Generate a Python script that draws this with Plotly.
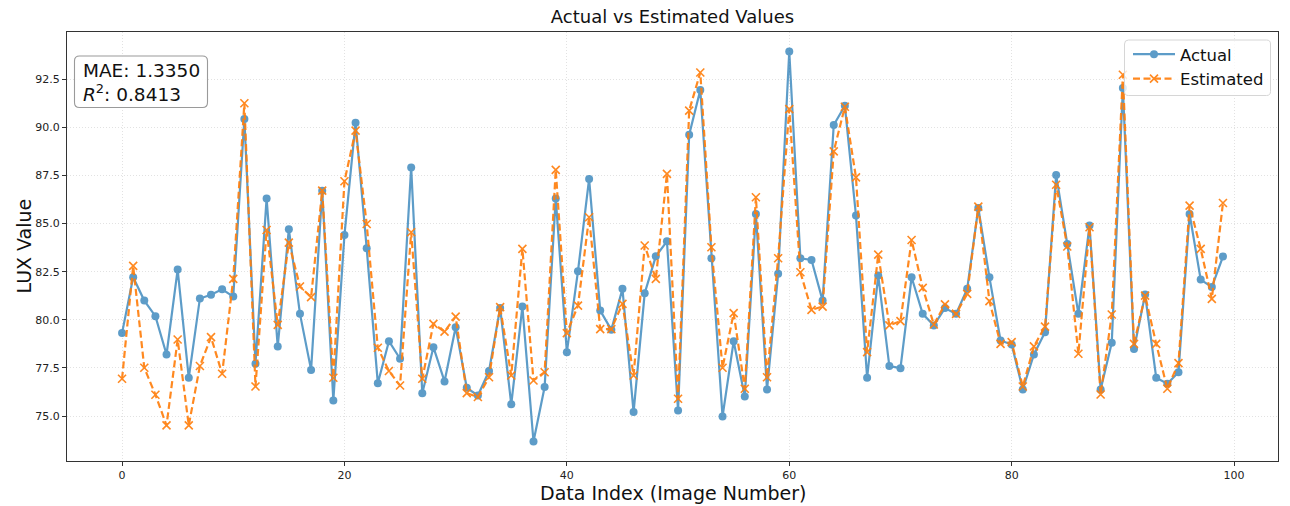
import plotly.graph_objects as go

# Per-image LUX values: measured vs model estimate
image_index = list(range(100))

actual_lux = [
    79.31, 82.21, 81.00, 80.19, 78.20, 82.61, 76.99, 81.11, 81.30, 81.59,
    81.21, 90.43, 77.72, 86.31, 78.62, 84.71, 80.31, 77.40, 86.71, 75.81,
    84.41, 90.24, 83.72, 76.71, 78.89, 77.98, 87.92, 76.19, 78.58, 76.80,
    79.62, 76.47, 76.07, 77.34, 80.62, 75.61, 80.69, 73.68, 76.51, 86.31,
    78.32, 82.53, 87.32, 80.48, 79.48, 81.61, 75.21, 81.38, 83.30, 84.08,
    75.29, 89.62, 91.94, 83.20, 74.98, 78.89, 76.02, 85.50, 76.38, 82.39,
    93.94, 83.20, 83.11, 81.00, 90.12, 91.12, 85.42, 76.99, 82.30, 77.60,
    77.49, 82.21, 80.31, 79.71, 80.61, 80.31, 81.61, 85.81, 82.21, 78.93,
    78.72, 76.38, 78.20, 79.36, 87.53, 83.94, 80.31, 84.90, 76.38, 78.81,
    92.04, 78.49, 81.31, 76.99, 76.68, 77.28, 85.50, 82.09, 81.70, 83.29,
]

estimated_lux = [
    76.94, 82.80, 77.51, 76.11, 74.52, 78.98, 74.52, 77.60, 79.10, 77.20,
    82.13, 91.25, 76.54, 84.67, 79.74, 84.01, 81.73, 81.18, 86.71, 76.99,
    87.20, 89.83, 84.98, 78.55, 77.34, 76.59, 84.55, 76.94, 79.79, 79.39,
    80.17, 76.19, 75.99, 77.02, 80.66, 77.11, 83.69, 76.85, 77.28, 87.79,
    79.31, 80.74, 85.33, 79.52, 79.52, 80.83, 77.11, 83.86, 82.13, 87.58,
    75.90, 90.87, 92.85, 83.77, 77.51, 80.35, 76.42, 86.37, 77.02, 83.20,
    90.95, 82.47, 80.52, 80.69, 88.75, 91.07, 87.40, 78.32, 83.39, 79.71,
    79.93, 84.15, 81.66, 79.76, 80.80, 80.31, 81.35, 85.88, 80.97, 78.75,
    78.84, 76.54, 78.62, 79.65, 87.02, 83.81, 78.24, 84.81, 76.12, 80.28,
    92.73, 78.75, 81.26, 78.75, 76.42, 77.75, 85.93, 83.69, 81.09, 86.07,
]

mae_value = 1.3350
r2_value = 0.8413

x_tick_values = [0, 20, 40, 60, 80, 100]
y_tick_values = [75.0, 77.5, 80.0, 82.5, 85.0, 87.5, 90.0, 92.5]

# ---- figure geometry (pixels) ----
W, H = 1290, 506
ML, MR, MT, MB = 67, 12, 32, 45
PW, PH = W - ML - MR, H - MT - MB

FONT = "DejaVu Sans"
BLUE = "#1f77b4"
ORANGE = "#ff7f0e"
TEXT = "#111111"


def px_to_paper(px, py):
    return (px - ML) / PW, (H - MB - py) / PH


def rounded_box(x0, y0, x1, y1, r):
    """Rounded rectangle given in pixel coordinates, returned as a paper-space SVG path."""

    def P(x, y):
        u, v = px_to_paper(x, y)
        return f"{u:.5f},{v:.5f}"

    return (
        f"M {P(x0 + r, y0)} L {P(x1 - r, y0)} Q {P(x1, y0)} {P(x1, y0 + r)} "
        f"L {P(x1, y1 - r)} Q {P(x1, y1)} {P(x1 - r, y1)} "
        f"L {P(x0 + r, y1)} Q {P(x0, y1)} {P(x0, y1 - r)} "
        f"L {P(x0, y0 + r)} Q {P(x0, y0)} {P(x0 + r, y0)} Z"
    )


# data range with 5% padding on each side
x_lo, x_hi = min(image_index), max(image_index)
x_pad = 0.05 * (x_hi - x_lo)
all_vals = actual_lux + estimated_lux
y_lo, y_hi = min(all_vals), max(all_vals)
y_pad = 0.05 * (y_hi - y_lo)

fig = go.Figure()

fig.add_trace(go.Scatter(
    x=image_index, y=actual_lux, name="Actual",
    mode="lines+markers",
    line=dict(color=BLUE, width=2.2),
    marker=dict(symbol="circle", size=8, color=BLUE),
    opacity=0.72,
))

fig.add_trace(go.Scatter(
    x=image_index, y=estimated_lux, name="Estimated",
    mode="lines+markers",
    line=dict(color=ORANGE, width=2.2, dash="7px,3.5px"),
    marker=dict(symbol="x-thin", size=8, color=ORANGE,
                line=dict(color=ORANGE, width=1.6)),
    opacity=0.92,
))

# metrics box (top-left) and legend frame (top-right)
fig.add_shape(type="path", xref="paper", yref="paper",
              path=rounded_box(74.5, 56, 207.5, 107.5, 5),
              line=dict(color="#9a9a9a", width=1.1), fillcolor="rgba(255,255,255,0.85)",
              layer="above")
fig.add_shape(type="path", xref="paper", yref="paper",
              path=rounded_box(1124.5, 40, 1270.5, 95.5, 4),
              line=dict(color="#d6d6d6", width=1), fillcolor="rgba(255,255,255,0.8)",
              layer="above")

mx, my = px_to_paper(81, 82)
fig.add_annotation(
    xref="paper", yref="paper", x=mx, y=my, xanchor="left", yanchor="middle",
    align="left", showarrow=False,
    text=f"MAE: {mae_value:.4f}<br><i>R</i><sup>2</sup>: {r2_value:.4f}",
    font=dict(family=FONT, size=18.5, color=TEXT),
)

# axis titles placed directly so the plot margins stay fixed
xt_x, xt_y = px_to_paper(ML + PW / 2, 493)
fig.add_annotation(
    xref="paper", yref="paper", x=xt_x, y=xt_y, xanchor="center", yanchor="middle",
    showarrow=False, text="Data Index (Image Number)",
    font=dict(family=FONT, size=19, color=TEXT),
)
yt_x, yt_y = px_to_paper(23, MT + PH / 2)
fig.add_annotation(
    xref="paper", yref="paper", x=yt_x, y=yt_y, xanchor="center", yanchor="middle",
    showarrow=False, text="LUX Value", textangle=-90,
    font=dict(family=FONT, size=19, color=TEXT),
)

lx, ly = px_to_paper(1128, 37)
axis_common = dict(
    ticks="outside", ticklen=4, tickwidth=1, tickcolor="#333333",
    showline=True, linecolor="#333333", linewidth=1, mirror=True,
    showgrid=True, gridcolor="#e2e2e2", griddash="1px,2px", gridwidth=1,
    zeroline=False, automargin=False,
    tickfont=dict(family=FONT, size=11, color="#222222"),
)
fig.update_layout(
    width=W, height=H,
    margin=dict(l=ML, r=MR, t=MT, b=MB, autoexpand=False),
    paper_bgcolor="white", plot_bgcolor="white",
    font=dict(family=FONT, size=11, color="#222222"),
    title=dict(text="Actual vs Estimated Values", x=(ML + PW / 2) / W, xanchor="center",
               y=1 - 17 / H, yanchor="middle",
               font=dict(family=FONT, size=18, color=TEXT)),
    showlegend=True,
    legend=dict(x=lx, y=ly, xanchor="left", yanchor="top",
                bgcolor="rgba(0,0,0,0)", borderwidth=0,
                font=dict(family=FONT, size=16.5, color=TEXT),
                tracegroupgap=0, itemwidth=42),
    xaxis=dict(range=[x_lo - x_pad, x_hi + x_pad],
               tickmode="array", tickvals=x_tick_values, **axis_common),
    yaxis=dict(range=[y_lo - y_pad, y_hi + y_pad],
               tickmode="array", tickvals=y_tick_values,
               ticktext=[f"{v:.1f}" for v in y_tick_values], **axis_common),
)

fig.write_html("out.html")
